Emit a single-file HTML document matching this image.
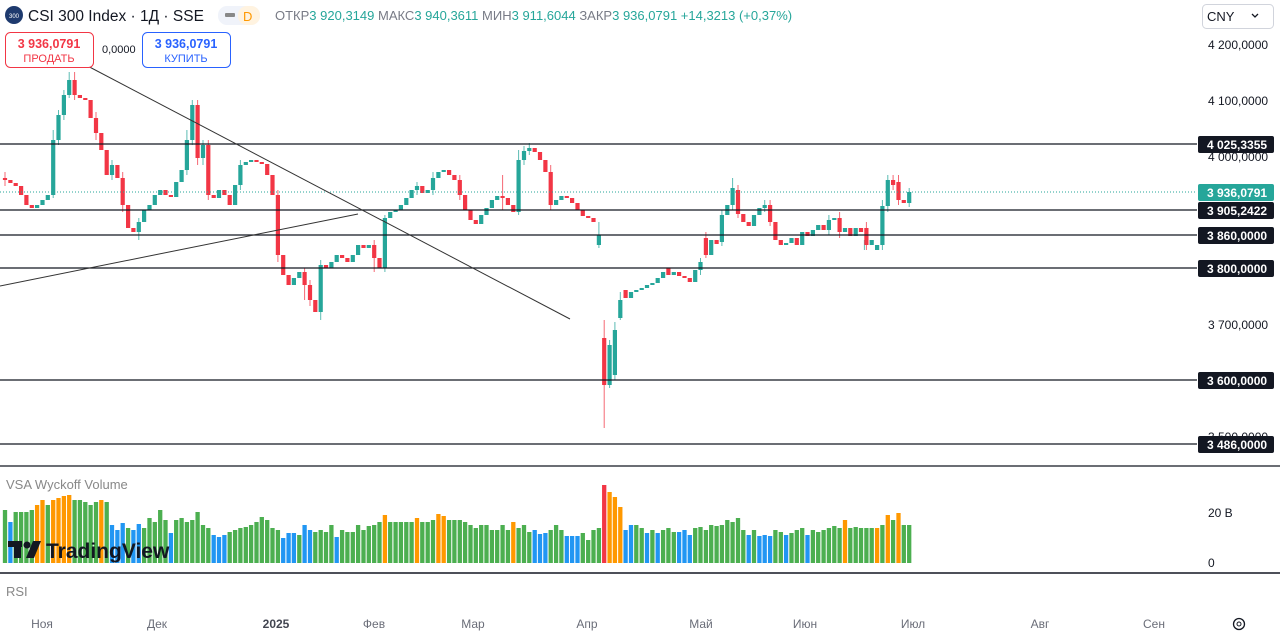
<!DOCTYPE html>
<html><head><meta charset="utf-8"><style>
body{margin:0;width:1280px;height:635px;overflow:hidden;background:#fff;font-family:"Liberation Sans",sans-serif;}
svg{position:absolute;left:0;top:0}
</style></head><body>
<svg width="1280" height="635" xmlns="http://www.w3.org/2000/svg" font-family="Liberation Sans, sans-serif">
<rect width="1280" height="635" fill="#fff"/>
<!-- volume -->
<g stroke-width="4.3" fill="none">
<path stroke="#4caf50" d="M5 563V510M15.7 563V512M21.1 563V512M26.4 563V512M31.8 563V510M47.8 563V505M74.6 563V500M79.9 563V500M85.3 563V502M90.6 563V505M96 563V502M106.7 563V502M128.1 563V528M144.1 563V528M149.5 563V518M154.8 563V522M160.2 563V510M165.5 563V520M176.2 563V520M181.6 563V518M186.9 563V522M192.3 563V520M197.6 563V512M203 563V525M208.3 563V528M229.7 563V532M235.1 563V530M240.4 563V528M245.8 563V527M251.1 563V525M256.5 563V522M261.8 563V517M267.2 563V520M272.5 563V528M277.9 563V530M299.3 563V535M315.3 563V532M320.7 563V530M326 563V532M331.4 563V525M342.1 563V530M347.4 563V532M352.8 563V532M358.1 563V525M363.5 563V530M368.8 563V526M374.2 563V525M379.5 563V522M390.2 563V522M395.6 563V522M400.9 563V522M406.3 563V522M411.6 563V522M422.3 563V522M427.7 563V522M433 563V520M449.1 563V520M454.4 563V520M459.8 563V520M465.1 563V522M470.5 563V525M475.8 563V528M481.2 563V525M486.5 563V525M491.9 563V530M497.2 563V530M502.6 563V525M507.9 563V530M518.6 563V528M524 563V525M529.3 563V532M550.7 563V530M556.1 563V525M561.4 563V530M582.8 563V533M588.2 563V540M593.5 563V530M598.9 563V528M636.3 563V525M641.7 563V528M652.4 563V530M663.1 563V530M668.4 563V528M673.8 563V532M695.2 563V528M700.5 563V527M705.9 563V530M711.2 563V525M716.6 563V526M721.9 563V525M727.3 563V520M732.6 563V522M738 563V518M743.3 563V530M754 563V530M775.4 563V530M780.8 563V532M791.5 563V533M796.8 563V530M802.2 563V528M812.9 563V530M818.2 563V532M823.6 563V530M828.9 563V528M834.3 563V526M839.6 563V528M850.3 563V528M855.7 563V527M861 563V528M866.4 563V528M871.7 563V528M882.4 563V525M893.1 563V520M903.8 563V525M909.2 563V525"/>
<path stroke="#ff9800" d="M37.1 563V505M42.5 563V500M53.2 563V500M58.5 563V498M63.9 563V496M69.2 563V495M101.3 563V500M384.9 563V515M417 563V518M438.4 563V514M443.7 563V516M513.3 563V522M609.6 563V492M614.9 563V497M620.3 563V507M845 563V520M877.1 563V528M887.8 563V515M898.5 563V513"/>
<path stroke="#2196f3" d="M10.4 563V522M112 563V525M117.4 563V530M122.7 563V523M133.4 563V530M138.8 563V524M170.9 563V533M213.7 563V535M219 563V537M224.4 563V535M283.2 563V538M288.6 563V533M293.9 563V533M304.6 563V525M310 563V530M336.7 563V537M534.7 563V530M540 563V534M545.4 563V533M566.8 563V536M572.1 563V536M577.5 563V536M625.6 563V530M631 563V525M647 563V533M657.7 563V533M679.1 563V532M684.5 563V530M689.8 563V535M748.7 563V535M759.4 563V536M764.7 563V535M770.1 563V536M786.1 563V535M807.5 563V535"/>
<path stroke="#f23645" d="M604.2 563V485"/>
</g>
<!-- wicks -->
<g stroke-width="1" fill="none" stroke-opacity="0.75">
<path stroke="#26a69a" d="M53.2 198V130M58.5 145V110M63.9 120V90M69.2 98V72M112 180V160M138.8 240V218M186.9 175V130M192.3 145V100M203 165V140M240.4 190V160M320.7 320V260M384.9 272V215M417 195V182M433 195V172M518.6 215V150M524 165V146M529.3 155V143M598.9 248V222M609.6 388V340M614.9 380V322M620.3 320V292M700.5 275V258M721.9 246V210M732.6 210V178M764.7 212V200M828.9 235V215M864.4 250V240M882.4 250V200M887.8 212V175M909.2 207V188"/>
<path stroke="#f23645" d="M5 172V186M74.6 72V100M96 112V140M122.7 172V212M197.6 100V165M208.3 140V200M277.9 190V262M304.6 268V300M310 280V306M374.2 240V272M459.8 175V200M502.6 175V210M550.7 165V210M604.2 320V428M705.9 232V258M738 185V218M770.1 200V226M839.6 212V238M866.4 222V250M893.1 175V190M898.5 175V205"/>
</g>
<!-- bodies -->
<g stroke-width="4.2" fill="none">
<path stroke="#26a69a" d="M37.1 205V208M42.5 200V205M47.8 195V200M53.2 140V195M58.5 115V140M63.9 95V115M69.2 80V95M112 165V175M138.8 222V232M144.1 210V222M149.5 205V210M154.8 195V205M160.2 190V195M176.2 182V197M181.6 170V182M186.9 140V170M192.3 105V140M203 145V158M219 190V198M235.1 185V205M240.4 165V185M245.8 162V165M251.1 160V162M293.9 278V285M299.3 272V278M320.7 265V312M331.4 262V268M336.7 255V262M352.8 255V262M358.1 245V255M368.8 245V248M384.9 218V268M390.2 212V218M395.6 210V212M400.9 205V210M406.3 198V205M411.6 190V198M417 186V190M427.7 190V193M433 178V190M438.4 172V178M443.7 170V172M481.2 215V224M486.5 208V215M491.9 200V208M497.2 196V200M518.6 160V212M524 151V160M529.3 148V151M556.1 200V205M561.4 196V200M598.9 235V245M609.6 345V385M614.9 330V375M620.3 300V318M631 292V298M636.3 290V292M641.7 288V290M647 285V288M652.4 283V285M657.7 278V283M663.1 272V278M673.8 272V275M695.2 270V282M700.5 262V270M711.2 240V255M721.9 215V242M727.3 205V215M732.6 188V205M754 215V226M759.4 208V215M764.7 205V208M786.1 243V245M791.5 238V243M802.2 232V245M812.9 230V236M818.2 225V230M828.9 220V230M834.3 218V220M845 228V232M855.7 228V236M871.7 240V245M877.1 245V250M882.4 206V245M887.8 180V206M909.2 192V203"/>
<path stroke="#f23645" d="M5 178V180M10.4 180V183M15.7 183V186M21.1 186V195M26.4 195V205M31.8 205V208M74.6 80V95M79.9 95V98M85.3 98V100M90.6 100V118M96 118V133M101.3 133V150M106.7 150V175M117.4 165V178M122.7 178V205M128.1 205V228M133.4 228V232M165.5 190V195M170.9 195V197M197.6 105V158M208.3 145V195M213.7 195V198M224.4 190V195M229.7 195V205M256.5 160V162M261.8 162V164M267.2 164V175M272.5 175V195M277.9 195V255M283.2 255V275M288.6 275V285M304.6 272V285M310 285V300M315.3 300V312M326 265V268M342.1 255V258M347.4 258V262M363.5 245V248M374.2 245V258M379.5 258V268M422.3 186V193M449.1 170V175M454.4 175V180M459.8 180V195M465.1 195V210M470.5 210V220M475.8 220V224M502.6 196V198M507.9 198V205M513.3 205V212M534.7 148V152M540 152V160M545.4 160V172M550.7 172V205M566.8 196V198M572.1 198V203M577.5 203V210M582.8 210V216M588.2 216V218M593.5 218V222M604.2 338V385M625.6 290V298M668.4 268V275M679.1 272V276M684.5 276V278M689.8 278V282M705.9 238V255M716.6 240V244M738 190V214M743.3 214V222M748.7 222V226M770.1 205V222M775.4 222V240M780.8 240V245M796.8 238V245M807.5 232V236M823.6 225V230M839.6 218V232M850.3 228V236M861 228V232M866.4 228V245M893.1 180V185M898.5 182V200M903.8 200V203"/>
</g>
<!-- horizontal levels -->
<g stroke="#131722" stroke-width="1.3">
<line x1="0" y1="144" x2="1197" y2="144"/>
<line x1="0" y1="210" x2="1197" y2="210"/>
<line x1="0" y1="235" x2="1197" y2="235"/>
<line x1="0" y1="268" x2="1197" y2="268"/>
<line x1="0" y1="380" x2="1197" y2="380"/>
<line x1="0" y1="444" x2="1197" y2="444"/>
</g>
<line x1="0" y1="192" x2="1197" y2="192" stroke="#26a69a" stroke-dasharray="1,2" stroke-width="1"/>
<line x1="80" y1="62" x2="570" y2="319" stroke="#333" stroke-width="1"/>
<line x1="0" y1="286" x2="358" y2="214" stroke="#333" stroke-width="1"/>
<line x1="0" y1="466" x2="1280" y2="466" stroke="#131722" stroke-width="1.2"/>
<line x1="0" y1="573" x2="1280" y2="573" stroke="#131722" stroke-width="1.5"/>
<!-- right axis -->
<g font-size="12" fill="#131722">
<text x="1208" y="49">4 200,0000</text>
<text x="1208" y="105">4 100,0000</text>
<text x="1208" y="161">4 000,0000</text>
<text x="1208" y="329">3 700,0000</text>
<text x="1208" y="441">3 500,0000</text>
<text x="1208" y="517">20 B</text>
<text x="1208" y="567">0</text>
</g>
<g font-size="12" fill="#fff" font-weight="bold">
<rect x="1198" y="136" width="76" height="17" rx="2" fill="#131722"/><text x="1207" y="149">4 025,3355</text>
<rect x="1198" y="184" width="76" height="17" rx="2" fill="#26a69a"/><text x="1207" y="197">3 936,0791</text>
<rect x="1198" y="202" width="76" height="17" rx="2" fill="#131722"/><text x="1207" y="215">3 905,2422</text>
<rect x="1198" y="227" width="76" height="17" rx="2" fill="#131722"/><text x="1207" y="240">3 860,0000</text>
<rect x="1198" y="260" width="76" height="17" rx="2" fill="#131722"/><text x="1207" y="273">3 800,0000</text>
<rect x="1198" y="372" width="76" height="17" rx="2" fill="#131722"/><text x="1207" y="385">3 600,0000</text>
<rect x="1198" y="436" width="76" height="17" rx="2" fill="#131722"/><text x="1207" y="449">3 486,0000</text>
</g>
<!-- time axis -->
<g font-size="12" fill="#6a6d78" text-anchor="middle">
<text x="42" y="628">Ноя</text><text x="157" y="628">Дек</text>
<text x="276" y="628" font-weight="bold" fill="#434651">2025</text>
<text x="374" y="628">Фев</text><text x="473" y="628">Мар</text><text x="587" y="628">Апр</text>
<text x="701" y="628">Май</text><text x="805" y="628">Июн</text><text x="913" y="628">Июл</text>
<text x="1040" y="628">Авг</text><text x="1154" y="628">Сен</text>
</g>
<circle cx="1239" cy="624" r="5.5" fill="none" stroke="#131722" stroke-width="1.3"/>
<circle cx="1239" cy="624" r="2" fill="none" stroke="#131722"/>
<text x="6" y="489" font-size="13" fill="#888">VSA Wyckoff Volume</text>
<text x="6" y="596" font-size="13" fill="#888">RSI</text>
<g>
<rect x="8" y="541" width="14" height="6" fill="#131722"/>
<rect x="14" y="541" width="7" height="17" fill="#131722"/>
<circle cx="27" cy="545" r="3.5" fill="#131722"/>
<polygon points="33,541 41,541 34,558 26,558" fill="#131722"/>
<text x="46" y="558" font-size="21" font-weight="bold" fill="#131722">TradingView</text>
</g>
<!-- header -->
<circle cx="14" cy="15" r="9" fill="#1e3a6e"/>
<text x="14" y="18" font-size="6" fill="#fff" text-anchor="middle">300</text>
<text x="28" y="21" font-size="15.5" fill="#131722">CSI 300 Index · 1Д · SSE</text>
<rect x="218" y="6" width="42" height="19" rx="9" fill="#f0f3fa"/>
<rect x="225" y="13" width="10" height="4" rx="1" fill="#888"/>
<rect x="238" y="6" width="22" height="19" rx="9" fill="#fff3e0"/>
<text x="243" y="21" font-size="13" fill="#ff9800">D</text>
<text x="275" y="20" font-size="13" fill="#787b86">ОТКР<tspan fill="#26a69a">3 920,3149</tspan>  МАКС<tspan fill="#26a69a">3 940,3611</tspan>  МИН<tspan fill="#26a69a">3 911,6044</tspan>  ЗАКР<tspan fill="#26a69a">3 936,0791  +14,3213 (+0,37%)</tspan></text>
<rect x="5.5" y="32.5" width="88" height="35" rx="5" fill="#fff" stroke="#f23645"/>
<text x="49" y="48" font-size="12.5" font-weight="bold" fill="#f23645" text-anchor="middle">3 936,0791</text>
<text x="49" y="62" font-size="11" fill="#f23645" text-anchor="middle">ПРОДАТЬ</text>
<text x="102" y="53" font-size="11" fill="#131722">0,0000</text>
<rect x="142.5" y="32.5" width="88" height="35" rx="5" fill="#fff" stroke="#2962ff"/>
<text x="186" y="48" font-size="12.5" font-weight="bold" fill="#2962ff" text-anchor="middle">3 936,0791</text>
<text x="186" y="62" font-size="11" fill="#2962ff" text-anchor="middle">КУПИТЬ</text>
<rect x="1202.5" y="4.5" width="71" height="24" rx="4" fill="#fff" stroke="#d1d4dc"/>
<text x="1207" y="21" font-size="13" fill="#131722">CNY</text>
<path d="M1252 14 l3 3 l3 -3" fill="none" stroke="#131722" stroke-width="1.3"/>
</svg>
</body></html>
